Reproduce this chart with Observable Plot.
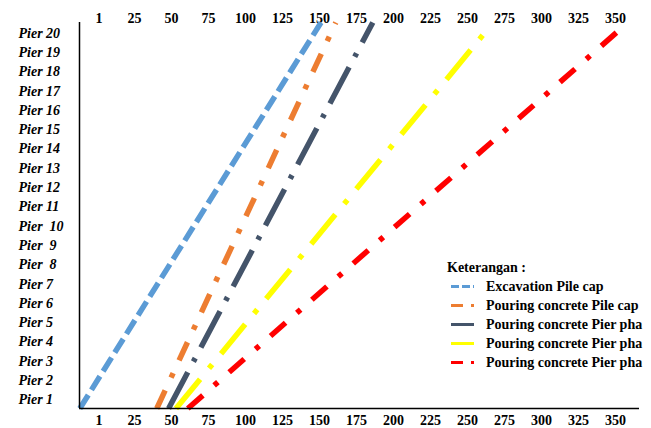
<!DOCTYPE html>
<html><head><meta charset="utf-8">
<script src="https://cdn.jsdelivr.net/npm/d3@7"></script>
<script src="https://cdn.jsdelivr.net/npm/@observablehq/plot@0.6"></script>
<style>
body{margin:0;background:#fff;}
#wrap{position:relative;width:651px;height:428px;overflow:hidden;font-family:"Liberation Serif","Times New Roman",serif;}
#wrap svg text{white-space:pre;}
#legend{position:absolute;left:447px;top:259px;width:200px;font-weight:bold;font-size:14px;color:#000;font-family:"Liberation Serif",serif;}
#legend .title{height:18px;line-height:18px;white-space:nowrap;}
#legend .row{display:flex;align-items:center;height:19px;white-space:nowrap;}
#legend .row svg{flex:0 0 39px;}
</style>
</head><body>
<div id="wrap"><div id="chart"></div><div id="legend"></div></div>
<script>
// ---- data ----
const xTicks = [1, 25, 50, 75, 100, 125, 150, 175, 200, 225, 250, 275, 300, 325, 350];
const xTickLabels = ["1","25","50","75","100","125","150","175","200","225","250","275","300","325","350"];
const pierTicks = [1,2,3,4,5,6,7,8,9,10,11,12,13,14,15,16,17,18,19,20];
const pierLabels = ["Pier 1","Pier 2","Pier 3","Pier 4","Pier 5","Pier 6","Pier 7","Pier  8","Pier  9","Pier  10",
  "Pier 11","Pier 12","Pier 13","Pier 14","Pier 15","Pier 16","Pier 17","Pier 18","Pier 19","Pier 20"];
// legend labels exactly as visible in the reference (the last three are cut at the chart edge there)
const seriesNames = ["Excavation Pile cap","Pouring concrete Pile cap","Pouring concrete Pier pha",
  "Pouring concrete Pier pha","Pouring concrete Pier pha"];
const startDay = [-12, 40, 48, 53, 61];
const endDay = [151, 161, 186, 262, 351];
const startPier = [0.5, 0.5, 0.5, 0.5, 0.5];
const endPier = [20.5, 20.5, 20.5, 20.0, 20.0];
const xDomain = [-12.2, 366.2];
const yDomain = [0.5, 20.5];

// ---- styles ----
const colors = ["#5B9BD5","#ED7D31","#44546A","#FFFF00","#FF0000"];
const dashes = ["16,6","20,14,5,14","41,12,4,12","38,14,5,14","20,15,5,15"];
const legendDashes = ["8,3","12,8,3,8",null,null,"12,8,3,8"];

const rows = [];
seriesNames.forEach((s, i) => {
  rows.push({series: i, day: startDay[i], pier: startPier[i]});
  rows.push({series: i, day: endDay[i], pier: endPier[i]});
});

const lineMarks = seriesNames.map((s, i) =>
  Plot.line(rows.filter(r => r.series === i), {
    x: "day", y: "pier", stroke: colors[i], strokeWidth: 5.5,
    strokeDasharray: dashes[i], strokeLinecap: "butt"
  })
);

const xFmt = d => xTickLabels[xTicks.indexOf(d)];
const chart = Plot.plot({
  width: 651, height: 428,
  marginLeft: 79, marginRight: 12, marginTop: 22, marginBottom: 20,
  style: {fontFamily: "'Liberation Serif', serif", fontSize: "14px", color: "#000", background: "transparent"},
  x: {domain: xDomain},
  y: {domain: yDomain},
  marks: [
    Plot.axisX({anchor: "top", ticks: xTicks, tickFormat: xFmt, tickSize: 0, tickPadding: 0, fontWeight: "bold", label: null}),
    Plot.axisX({anchor: "bottom", ticks: xTicks, tickFormat: xFmt, tickSize: 0, tickPadding: 7, fontWeight: "bold", label: null}),
    Plot.axisY({ticks: pierTicks, tickFormat: d => pierLabels[d - 1], tickSize: 0, tickPadding: 0,
      textAnchor: "start", dx: -61, dy: 1, fontWeight: "bold", fontStyle: "italic", label: null}),
    ...lineMarks,
    Plot.ruleX([xDomain[0]], {y1: yDomain[0], y2: yDomain[1], stroke: "#000", strokeWidth: 1.5}),
    Plot.ruleY([yDomain[0]], {x1: xDomain[0], x2: xDomain[1], stroke: "#000", strokeWidth: 1.5})
  ]
});
document.getElementById("chart").appendChild(chart);

// ---- legend ----
const legend = document.getElementById("legend");
const t = document.createElement("div");
t.className = "title"; t.textContent = "Keterangan :";
legend.appendChild(t);
seriesNames.forEach((s, i) => {
  const row = document.createElement("div");
  row.className = "row";
  const da = legendDashes[i] ? ` stroke-dasharray="${legendDashes[i]}"` : "";
  row.innerHTML = `<svg width="39" height="19"><line x1="4" x2="27" y1="9.5" y2="9.5" stroke="${colors[i]}" stroke-width="3"${da}/></svg><span>${s}</span>`;
  legend.appendChild(row);
});
</script>
</body></html>
